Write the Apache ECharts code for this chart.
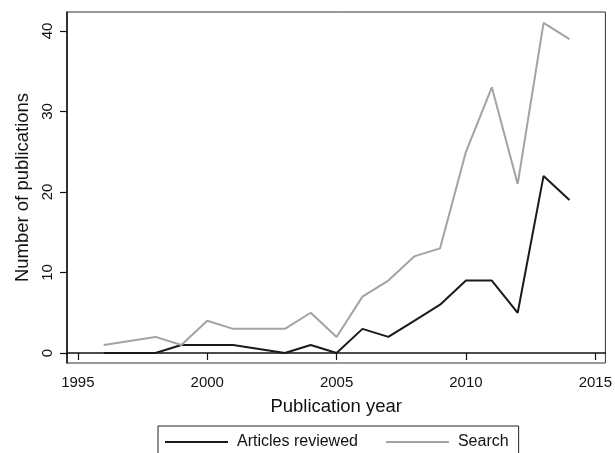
<!DOCTYPE html>
<html>
<head>
<meta charset="utf-8">
<script src="https://cdn.jsdelivr.net/npm/echarts@6/dist/echarts.min.js"></script>
<style>html,body{margin:0;padding:0;background:#fff}#c{width:615px;height:453px}</style>
</head>
<body>
<div id="c"></div>
<script>
const articleYears  = [1996, 1997, 1998, 1999, 2000, 2001, 2003, 2004, 2005, 2006, 2007, 2008, 2009, 2010, 2011, 2012, 2013, 2014];
const articleValues = [0, 0, 0, 1, 1, 1, 0, 1, 0, 3, 2, 4, 6, 9, 9, 5, 22, 19];
const searchYears   = [1996, 1998, 1999, 2000, 2001, 2002, 2003, 2004, 2005, 2006, 2007, 2008, 2009, 2010, 2011, 2012, 2013, 2014];
const searchValues  = [1, 2, 1, 4, 3, 3, 3, 5, 2, 7, 9, 12, 13, 25, 33, 21, 41, 39];
const xTicks = [1995, 2000, 2005, 2010, 2015];
const yTicks = [0, 10, 20, 30, 40];

const font = 'Liberation Sans, Arial, Helvetica, sans-serif';
const chart = echarts.init(document.getElementById('c'), null, {renderer: 'canvas'});
chart.setOption({
  animation: false,
  backgroundColor: '#fff',
  grid: {left: 67, top: 12, right: 8, bottom: 90, show: true, borderColor: '#333', borderWidth: 1},
  xAxis: {
    type: 'value', min: 1994.58, max: 2015.39,
    name: 'Publication year', nameLocation: 'middle', nameGap: 34,
    nameTextStyle: {fontFamily: font, fontSize: 18.5, color: '#111'},
    axisLine: {show: true, lineStyle: {color: '#111', width: 1.5}},
    axisTick: {show: true, length: 7, lineStyle: {color: '#111', width: 1.2}, customValues: xTicks},
    axisLabel: {fontFamily: font, fontSize: 15, color: '#111', margin: 12, customValues: xTicks,
                formatter: v => String(v)},
    splitLine: {show: false}
  },
  yAxis: {
    type: 'value', min: -1.24, max: 42.36,
    name: 'Number of publications', nameLocation: 'middle', nameGap: 35,
    nameTextStyle: {fontFamily: font, fontSize: 18.5, color: '#111'},
    axisLine: {show: true, lineStyle: {color: '#111', width: 1.5}},
    axisTick: {show: true, length: 7, lineStyle: {color: '#111', width: 1.2}, customValues: yTicks},
    axisLabel: {fontFamily: font, fontSize: 15, color: '#111', margin: 12, rotate: 90, customValues: yTicks,
                formatter: v => String(v)},
    splitLine: {show: false}
  },
  legend: {
    left: 158, top: 426, orient: 'horizontal',
    padding: [8, 10, 8, 7], itemGap: 28,
    borderColor: '#222', borderWidth: 1,
    itemWidth: 63, itemHeight: 2, icon: 'rect',
    textStyle: {fontFamily: font, fontSize: 16, color: '#111', padding: [0, 0, 0, 4]},
    data: ['Articles reviewed', 'Search']
  },
  series: [
    {name: 'Articles reviewed', type: 'line', showSymbol: false, color: '#1a1a1a',
     lineStyle: {width: 2, color: '#1a1a1a'},
     data: articleYears.map((y, i) => [y, articleValues[i]])},
    {name: 'Search', type: 'line', showSymbol: false, color: '#a3a3a3',
     lineStyle: {width: 2, color: '#a3a3a3'},
     data: searchYears.map((y, i) => [y, searchValues[i]])}
  ]
});
</script>
</body>
</html>
